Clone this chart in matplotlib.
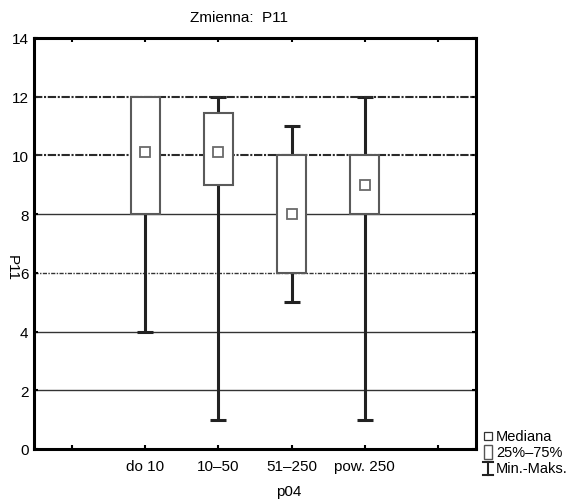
import matplotlib
matplotlib.use("Agg")
import matplotlib.pyplot as plt
from matplotlib.lines import Line2D
from matplotlib.patches import Rectangle

plt.rcParams['font.family'] = ['Liberation Sans', 'DejaVu Sans']

categories = ["do 10", "10\u201350", "51\u2013250", "pow. 250"]
medians = [10.1, 10.1, 8.0, 9.0]
q1 = [8.0, 9.0, 6.0, 8.0]
q3 = [12.0, 11.45, 10.0, 10.0]
mins = [4.0, 1.0, 5.0, 1.0]
maxs = [12.0, 12.0, 11.0, 12.0]
yticks = [0, 2, 4, 6, 8, 10, 12, 14]

W, H = 576, 502
fig = plt.figure(figsize=(W / 100, H / 100), dpi=100)
ax = fig.add_axes([34 / W, 1 - 450 / H, (476 - 34) / W, (450 - 39) / H])

positions = [2, 3, 4, 5]
box_w = 0.39
cap_w = 0.22
FS = 11

# gridlines
for yv in [2, 4, 6, 8, 10, 12]:
    if yv in (10, 12):
        ax.axhline(yv, color='#2a2a2a', lw=1.5, dashes=(4, 0.8, 1, 0.8), zorder=2.5)
    elif yv == 6:
        ax.axhline(yv, color='#333333', lw=1.0, dashes=(3, 1, 1, 1), zorder=1)
    else:
        ax.axhline(yv, color='#333333', lw=1.0, zorder=1)

for p, md, a, b, lo, hi in zip(positions, medians, q1, q3, mins, maxs):
    # whiskers
    ax.plot([p, p], [lo, a], color='#222222', lw=2.2, solid_capstyle='butt', zorder=2)
    ax.plot([p, p], [b, hi], color='#222222', lw=2.2, solid_capstyle='butt', zorder=2)
    ax.plot([p - cap_w / 2, p + cap_w / 2], [lo, lo], color='#222222', lw=2.2, solid_capstyle='butt', zorder=2)
    if hi > b:
        ax.plot([p - cap_w / 2, p + cap_w / 2], [hi, hi], color='#222222', lw=2.2, solid_capstyle='butt', zorder=2)
    # box
    ax.add_patch(Rectangle((p - box_w / 2, a), box_w, b - a, facecolor='white',
                           edgecolor='#5a5a5a', lw=1.5, zorder=3))
    # median marker
    ax.plot([p], [md], marker='s', ms=6.5, mfc='white', mec='#6a6a6a', mew=1.3, zorder=6)

ax.set_xlim(0.48, 6.52)
ax.set_ylim(0, 14)
ax.set_yticks(yticks)
ax.set_yticklabels([str(v) for v in yticks], fontsize=FS)
ax.set_xticks([1, 2, 3, 4, 5, 6])
ax.set_xticklabels([""] + categories + [""], fontsize=FS)
ax.tick_params(axis='both', direction='in', length=3, width=1.5, top=True, right=True, pad=7)
ax.tick_params(axis='y', pad=4)
for s in ax.spines.values():
    s.set_linewidth(2.2)
    s.set_color('black')
    s.set_zorder(7)

fig.text(239 / W, 1 - 18 / H, "Zmienna:  P11", ha='center', va='center', fontsize=FS)
fig.text(289 / W, 1 - 492 / H, "p04", ha='center', va='center', fontsize=FS)
fig.text(12 / W, 1 - 268 / H, "P11", ha='center', va='center', rotation=-90, fontsize=FS)

# legend
lx = 488
fig.add_artist(Line2D([lx / W], [1 - 437 / H], marker='s', ms=6, mfc='white', mec='#333333',
                      mew=0.9, transform=fig.transFigure, ls='none'))
fig.text(496 / W, 1 - 437 / H, "Mediana", va='center', fontsize=10.5)
fig.add_artist(Rectangle(((lx - 4) / W, 1 - 460 / H), 8 / W, 14 / H, facecolor='white',
                         edgecolor='#555555', lw=1.0, transform=fig.transFigure))
fig.text(496 / W, 1 - 453 / H, "25%\u201375%", va='center', fontsize=10.5)
fig.add_artist(Line2D([lx / W, lx / W], [1 - 463 / H, 1 - 476 / H], color='#222222', lw=1.5,
                      transform=fig.transFigure))
fig.add_artist(Line2D([(lx - 5) / W, (lx + 5) / W], [1 - 463 / H, 1 - 463 / H], color='#222222', lw=1.5,
                      transform=fig.transFigure))
fig.add_artist(Line2D([(lx - 5) / W, (lx + 5) / W], [1 - 476 / H, 1 - 476 / H], color='#222222', lw=1.5,
                      transform=fig.transFigure))
fig.text(496 / W, 1 - 469 / H, "Min.-Maks.", va='center', fontsize=10.5)

fig.savefig("out.png", dpi=100)
